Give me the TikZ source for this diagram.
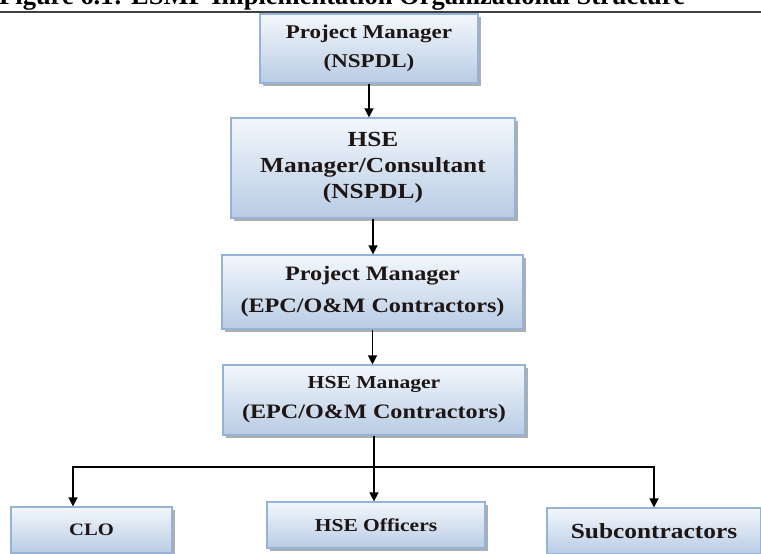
\documentclass[tikz,border=0pt]{standalone}
\usepackage{fontspec}
\setmainfont{Liberation Serif}
\newfontfamily\boxfont[FakeStretch=1.18]{Liberation Serif}
\usetikzlibrary{arrows.meta,shadows}

\definecolor{boxtop}{RGB}{243,247,252}
\definecolor{boxbot}{RGB}{184,204,228}
\definecolor{boxline}{RGB}{149,179,215}
\definecolor{boxtext}{RGB}{30,22,20}

\newcommand{\fsz}[2]{\fontsize{#1}{#2}\selectfont}

\tikzset{
  orgbox/.style={draw=boxline, line width=1.2pt, top color=boxtop, bottom color=boxbot,
    text=boxtext, align=center, inner sep=0pt,
    drop shadow={shadow xshift=3pt, shadow yshift=-3pt, fill=black!45, opacity=.7}},
  link/.style={line width=1.4pt, -{Triangle[length=9pt,width=9pt]}},
}

\begin{document}
\begin{tikzpicture}[x=1pt, y=-1pt]
  \useasboundingbox (0,0) rectangle (761,554);

  % 1. caption (only its lower half shows) and rule
  \node[anchor=base west, inner sep=0pt, font=\fsz{26.5}{26}\bfseries] (cap) at (-1,5)
    {Figure 6.1: ESMP Implementation Organizational Structure};
  \draw[line width=1.1pt, black!75] (0,12) -- (761,12);

  % 2. chain of managers
  \node[orgbox, minimum width=218pt, minimum height=69pt, font=\boxfont\fsz{19.5}{29}\bfseries] (pmn) at (369,48.5)
    {Project Manager\\(NSPDL)};
  \node[orgbox, minimum width=284pt, minimum height=100pt, font=\boxfont\fsz{21.5}{26}\bfseries] (hsen) at (373,168)
    {HSE\\Manager/Consultant\\(NSPDL)};
  \node[orgbox, minimum width=301pt, minimum height=74pt, font=\boxfont\fsz{20.5}{32}\bfseries] (pmc) at (372.5,292)
    {Project Manager\\(EPC/O\&M Contractors)};
  \node[orgbox, minimum width=302pt, minimum height=70pt, font=\boxfont\fsz{20.5}{30}\bfseries] (hsec) at (374,400)
    {{\fsz{18.3}{30}HSE Manager}\\(EPC/O\&M Contractors)};

  % 3. bottom row
  \node[orgbox, minimum width=161pt, minimum height=46pt, font=\boxfont\fsz{17.5}{22}\bfseries] (clo) at (91.5,530) {CLO};
  \node[orgbox, minimum width=218pt, minimum height=46pt, font=\boxfont\fsz{18.2}{22}\bfseries] (off) at (376,525) {HSE Officers};
  \node[orgbox, minimum width=214pt, minimum height=46pt, font=\boxfont\fsz{21.5}{22}\bfseries] (sub) at (654,531) {Subcontractors};

  % 4. connectors
  \draw[link] (pmn.south) -- (pmn.south |- hsen.north);
  \draw[link] (hsen.south) -- (hsen.south |- pmc.north);
  \draw[link] (pmc.south) -- (pmc.south |- hsec.north);
  \draw[link] (hsec.south) -- (hsec.south |- off.north);

  \coordinate (busL) at (73,467);
  \coordinate (busR) at (654,467);
  \draw[link] (hsec.south |- busL) -- (busL) -- (busL |- clo.north);
  \draw[link] (hsec.south |- busR) -- (busR) -- (busR |- sub.north);
\end{tikzpicture}
\end{document}
